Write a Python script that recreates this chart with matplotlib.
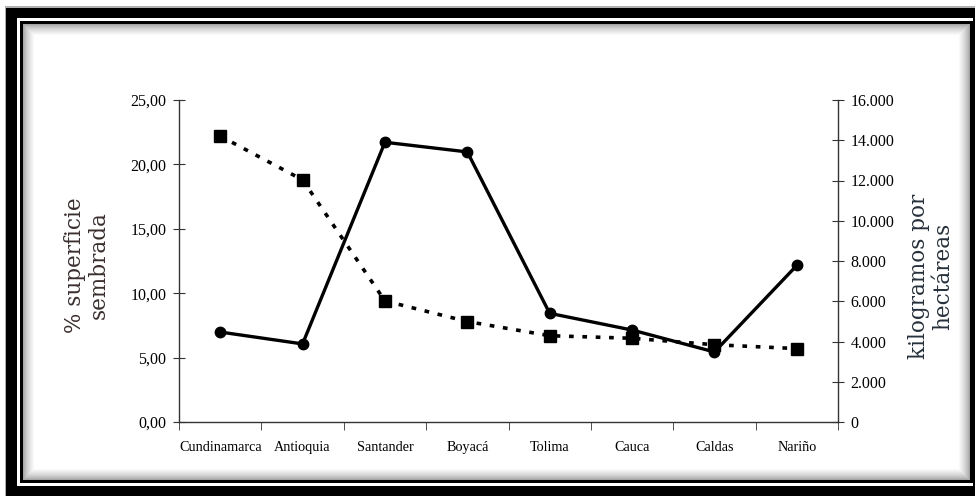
import matplotlib
matplotlib.use("Agg")
import matplotlib.pyplot as plt
from matplotlib.patches import Rectangle
from matplotlib.ticker import FuncFormatter, FixedLocator
import numpy as np

# datos
departamentos = ["Cundinamarca", "Antioquia", "Santander", "Boyacá",
                 "Tolima", "Cauca", "Caldas", "Nariño"]
superficie = [22.2, 18.8, 9.4, 7.8, 6.7, 6.5, 6.0, 5.7]          # % superficie sembrada
rendimiento = [4470, 3880, 13900, 13420, 5400, 4570, 3480, 7780]   # kg por hectarea

W, H = 975, 496
fig = plt.figure(figsize=(W / 100, H / 100), dpi=100)
fig.patch.set_facecolor("white")


def px(x0, y0, x1, y1):
    # rectangulo en pixeles (origen arriba a la izquierda) -> coords de figura
    return (x0 / W, 1 - y1 / H), (x1 - x0) / W, (y1 - y0) / H


# marco negro con sombra
def rect(x0, y0, x1, y1, **kw):
    xy, w, h = px(x0, y0, x1, y1)
    fig.patches.append(Rectangle(xy, w, h, transform=fig.transFigure,
                                 zorder=-5, **kw))

rect(5, 6, W + 5, H + 5, facecolor="#b0b0b0", edgecolor="none")
rect(6, 8, W + 5, H + 5, facecolor="black", edgecolor="none")
rect(17, 18, 973, 486, facecolor="white", edgecolor="none")
rect(20, 21, 973, 483, facecolor="black", edgecolor="none")
n = 12
for i in range(n):
    g = 0.55 + 0.45 * ((i + 1) / n) ** 0.6
    rect(23 + i, 24 + i, 970 - i, 480 - i, facecolor=(g, g, g), edgecolor="none")

# ejes
ax = fig.add_axes([179 / W, 1 - 422 / H, (838 - 179) / W, (422 - 100) / H])
ax.set_facecolor("none")
ax2 = ax.twinx()

x = np.arange(len(departamentos))
ax.plot(x, superficie, color="black", lw=2.6, dashes=(1.3, 2.4),
        marker="s", markersize=8, zorder=3)
ax2.plot(x, rendimiento, color="black", lw=2.4,
         marker="o", markersize=7.5, zorder=3)

ax.set_xlim(-0.5, len(departamentos) - 0.5)
ax.set_ylim(0, 25)
ax2.set_ylim(0, 16000)

serif = "Liberation Serif"
ax.set_yticks(np.arange(0, 26, 5))
ax.yaxis.set_major_formatter(FuncFormatter(lambda v, p: f"{v:.2f}".replace(".", ",")))
ax2.set_yticks(np.arange(0, 16001, 2000))
ax2.yaxis.set_major_formatter(FuncFormatter(lambda v, p: f"{int(v):,}".replace(",", ".")))

ax.set_xticks(x)
ax.set_xticklabels(departamentos, fontfamily=serif, fontsize=10.2)
ax.xaxis.set_minor_locator(FixedLocator(np.arange(-0.5, len(departamentos), 1)))
ax.tick_params(axis="x", which="major", length=0, pad=14)
ax.tick_params(axis="x", which="minor", length=6, direction="out", color="#333333")
ax.tick_params(axis="y", length=8, direction="inout", color="#333333", pad=5)
ax2.tick_params(axis="y", length=8, direction="inout", color="#333333", pad=5)
for lab in ax.get_yticklabels() + ax2.get_yticklabels():
    lab.set_fontfamily(serif)
    lab.set_fontsize(11.5)

for a in (ax, ax2):
    a.spines["top"].set_visible(False)
    for s in ("left", "right", "bottom"):
        a.spines[s].set_color("#333333")
        a.spines[s].set_linewidth(1.0)
ax.spines["right"].set_visible(False)
ax2.spines["left"].set_visible(False)
ax2.spines["bottom"].set_visible(False)

fig.text(87 / W, 1 - 265 / H, "% superficie\nsembrada", rotation=90,
         ha="center", va="center", fontfamily="DejaVu Serif", fontsize=15.5,
         color="#3a2e2e", linespacing=1.1)
fig.text(931 / W, 1 - 276 / H, "kilogramos por\nhectáreas", rotation=90,
         ha="center", va="center", fontfamily="DejaVu Serif", fontsize=15.5,
         color="#26303a", linespacing=1.1)

fig.savefig("out.png", dpi=100, facecolor=fig.get_facecolor())
